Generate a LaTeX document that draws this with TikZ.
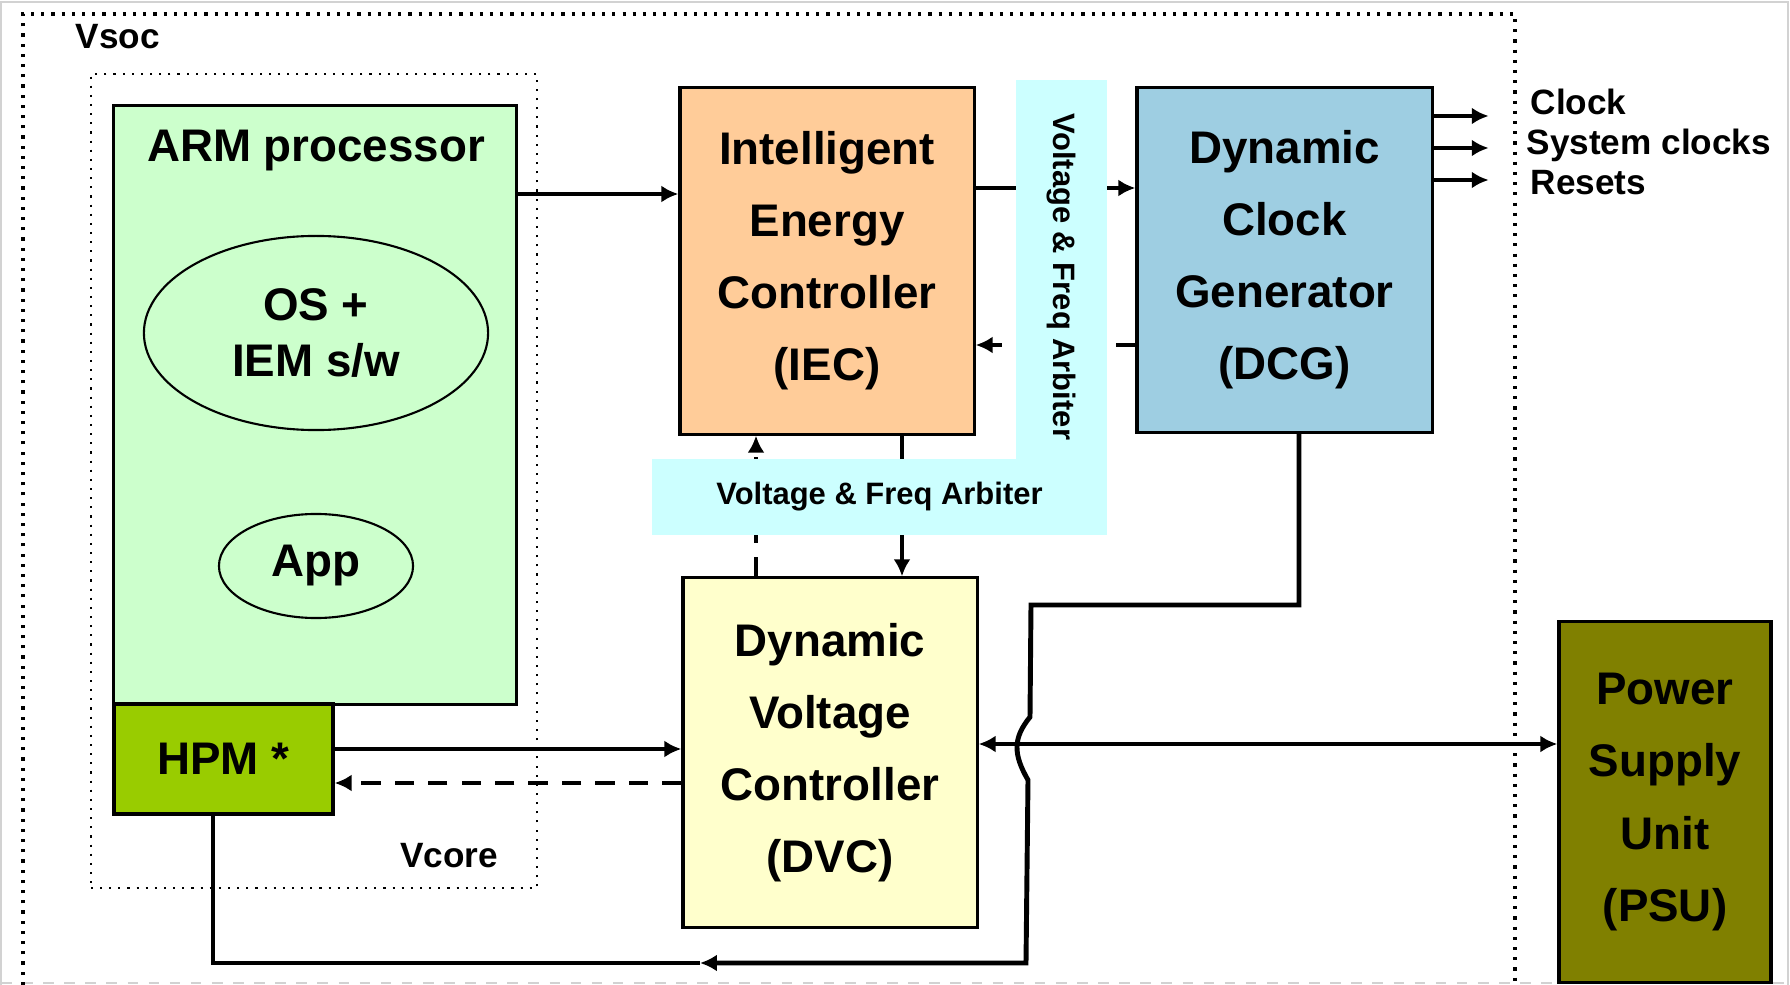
\documentclass[tikz,border=0pt]{standalone}
\usepackage{fontspec}
\setmainfont{Liberation Sans}
\usepackage{xcolor}
\definecolor{armgreen}{RGB}{204,255,204}
\definecolor{hpmgreen}{RGB}{153,204,0}
\definecolor{iecorange}{RGB}{255,204,153}
\definecolor{dcgblue}{RGB}{158,206,226}
\definecolor{dvcyellow}{RGB}{255,255,204}
\definecolor{psuolive}{RGB}{128,128,0}
\definecolor{arbcyan}{RGB}{204,255,255}
\usepackage{tikz}
\usetikzlibrary{arrows.meta,shapes.geometric}
\tikzset{
  blk/.style={draw, line width=0.9pt, align=center, inner sep=0pt, font=\fontsize{13}{20.5}\selectfont\bfseries},
  oval/.style={draw, ellipse, line width=0.6pt, fill=armgreen, align=center, inner sep=0pt, font=\fontsize{13}{16}\selectfont\bfseries},
  arb/.style={fill=arbcyan, inner sep=0pt, font=\fontsize{8.8}{10}\selectfont\bfseries},
  dom/.style={dotted, line width=0.9pt},
  arr/.style={-{Latex[length=4.8pt,width=4.8pt]}, line width=1.4pt},
  dsh/.style={arr, dash pattern=on 5.5pt off 4pt},
  wire/.style={line width=1.4pt},
  lbl/.style={font=\fontsize{10}{12}\selectfont\bfseries, inner sep=0pt}
}

\begin{document}
\begin{tikzpicture}[x=0.01cm, y=-0.01cm]
  \useasboundingbox (0,0) rectangle (1790,985);
  % screenshot frame
  \draw[gray!35, line width=0.5pt] (1,985) -- (1,2) -- (1788,2) -- (1788,985);
  \draw[gray!35, line width=0.5pt, dashed] (1,983) -- (1788,983);

  % voltage domains
  \draw[dom] (23,985) -- (23,14) -- (1515,14) -- (1515,985);
  \node[lbl] (vsoc) at (118,37) {Vsoc};
  \node[draw, dotted, line width=0.6pt, minimum width=4.46cm, minimum height=8.14cm] (vcore) at (314,481) {};
  \node[lbl] (vcorelbl) at (449,856) {Vcore};

  % blocks
  \node[blk, fill=armgreen, minimum width=4.02cm, minimum height=5.98cm] (arm) at (315,405) {};
  \node[blk, draw=none] (armtxt) at (316,151) {ARM processor};
  \node[oval, minimum width=3.44cm, minimum height=1.94cm] (os) at (316,333) {OS +\\IEM s/w};
  \node[oval, minimum width=1.94cm, minimum height=1.04cm] (app) at (316,566) {App};
  \node[blk, fill=hpmgreen, minimum width=2.19cm, minimum height=1.10cm] (hpm) at (223.5,759) {HPM *};
  \node[blk, fill=iecorange, minimum width=2.94cm, minimum height=3.46cm] (iec) at (827,261) {Intelligent\\Energy\\Controller\\(IEC)};
  \node[blk, fill=dcgblue, minimum width=2.95cm, minimum height=3.44cm] (dcg) at (1284.5,260) {Dynamic\\Clock\\Generator\\(DCG)};
  \node[blk, fill=dvcyellow, minimum width=2.94cm, minimum height=3.49cm] (dvc) at (830,752.5) {Dynamic\\Voltage\\Controller\\(DVC)};
  \node[blk, fill=psuolive, minimum width=2.12cm, minimum height=3.60cm] (psu) at (1665,802) {Power\\Supply\\Unit\\(PSU)};

  % connectors
  \draw[arr] (arm.east|-0,194) -- (iec.west|-0,194);
  \draw[arr] (iec.east|-0,188) -- (dcg.west|-0,188);
  \draw[dsh] (dcg.west|-0,345) -- (iec.east|-0,345);
  \draw[arr] (iec.south-|902,0) -- (dvc.north-|902,0);
  \draw[dsh] (dvc.north-|756,0) -- (iec.south-|756,0);
  \draw[arr] (hpm.east|-0,749) -- (dvc.west|-0,749);
  \draw[dsh] (dvc.west|-0,783) -- (hpm.east|-0,783);
  \draw[arr, {Latex[length=4.8pt,width=4.8pt]}-{Latex[length=4.8pt,width=4.8pt]}] (dvc.east|-0,744) -- (psu.west|-0,744);
  \draw[arr] (dcg.east|-0,116) -- ++(55,0);
  \draw[arr] (dcg.east|-0,148) -- ++(55,0);
  \draw[arr] (dcg.east|-0,180) -- ++(55,0);

  % clock feedback to HPM, hopping over the supply line
  \coordinate (fbmid) at (700,963);
  \draw[arr] (dcg.south-|1299,0) -- (1299,605) -- (1031,605) -- (1030,717)
    .. controls (1013,738) and (1013,754) .. (1028,780) -- (1026,963) -- (fbmid);
  \draw[wire] (fbmid) -- (213,963) -- (hpm.south-|213,0);

  % arbiter (drawn over the wires)
  \node[arb, rotate=-90, minimum width=3.94cm, minimum height=0.91cm] (arbv) at (1061.5,277) {Voltage \& Freq Arbiter};
  \node[arb, minimum width=4.55cm, minimum height=0.76cm] (arbh) at (879.5,497) {Voltage \& Freq Arbiter};

  \node[lbl, anchor=west] (clk) at (1530,102) {Clock};
  \node[lbl, anchor=west] (sysclk) at (1526,145) {System clocks};
  \node[lbl, anchor=west] (rst) at (1530,183) {Resets};
\end{tikzpicture}
\end{document}
